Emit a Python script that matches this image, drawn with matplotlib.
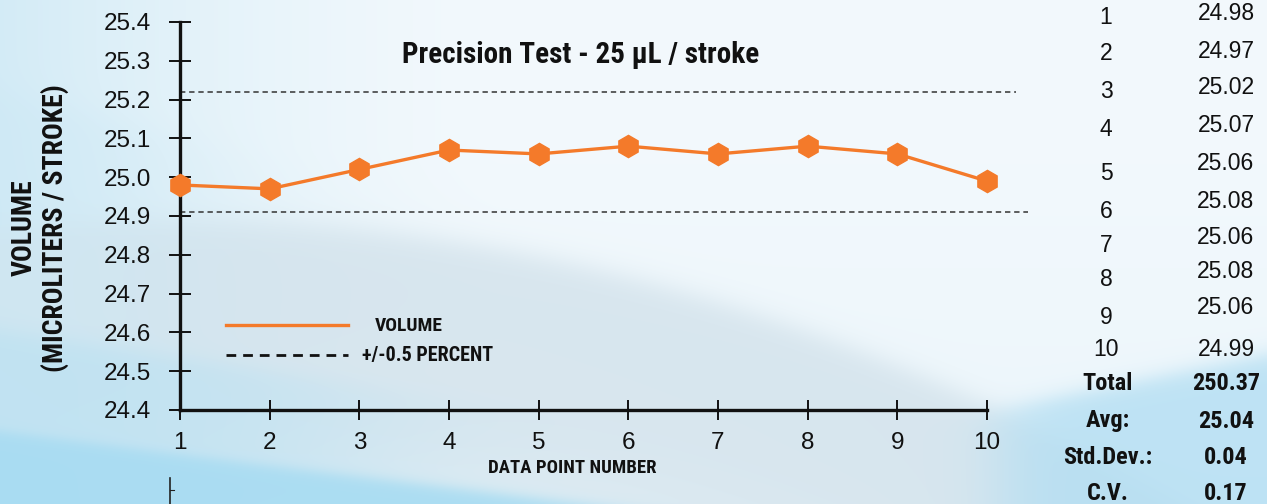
import numpy as np
import matplotlib
matplotlib.use("Agg")
import matplotlib.pyplot as plt
from matplotlib import font_manager
from matplotlib.lines import Line2D

# ---------------- data ----------------
data_points = [1, 2, 3, 4, 5, 6, 7, 8, 9, 10]
volumes = [24.98, 24.97, 25.02, 25.07, 25.06, 25.08, 25.06, 25.08, 25.06, 24.99]
limit_upper = 25.22
limit_lower = 24.91
y_ticks = [24.4, 24.5, 24.6, 24.7, 24.8, 24.9, 25.0, 25.1, 25.2, 25.3, 25.4]
summary_labels = ["Total", "Avg:", "Std.Dev.:", "C.V."]
summary_values = ["250.37", "25.04", "0.04", "0.17"]
title = "Precision Test - 25 µL / stroke"
legend_labels = ["VOLUME", "+/-0.5 PERCENT"]

# ---------------- fonts ----------------
fl = font_manager.fontManager.ttflist
names = {f.name for f in fl}
REG = "Liberation Sans" if "Liberation Sans" in names else "DejaVu Sans"
NARROW, STRETCH = None, "normal"
for cand in ["Liberation Sans Narrow", "Roboto Condensed", "Open Sans Condensed",
             "DejaVu Sans Condensed", "Noto Sans Condensed"]:
    if cand in names:
        NARROW = cand
        break
if NARROW is None:
    cond = [f for f in fl if str(f.stretch) in ("condensed", "semi-condensed",
            "extra-condensed") or (isinstance(f.stretch, int) and f.stretch < 500)]
    cond_bold = [f for f in cond if (f.weight == "bold" or
                 (isinstance(f.weight, int) and f.weight >= 600))]
    pick = cond_bold[0] if cond_bold else (cond[0] if cond else None)
    if pick is not None:
        NARROW, STRETCH = pick.name, pick.stretch
    else:
        cn = [n for n in names if "Condensed" in n or "Narrow" in n]
        NARROW = cn[0] if cn else REG
IS_NARROW = NARROW != REG
BSCALE = 1.0 if IS_NARROW else 0.82
ORANGE = "#f47a2a"

W, H = 1267, 504
fig = plt.figure(figsize=(W / 100, H / 100), dpi=100)

# ---------------- background ----------------
yy, xx = np.mgrid[0:H, 0:W].astype(float)
def sm(v, w):
    return 1 / (1 + np.exp(-v / w))
white = np.array([0.95, 0.975, 0.99])
lightblue = np.array([0.80, 0.91, 0.96])
gray = np.array([0.83, 0.89, 0.925])
blue = np.array([0.65, 0.86, 0.95])
t = np.clip(1 - xx / 500, 0, 1) ** 1.5 * 0.8 + np.clip((yy - 150) / 600, 0, 1) * 0.3
t = np.clip(t, 0, 1)[..., None]
img = white * (1 - t) + lightblue * t
f1 = 220 + 0.000283 * (xx - 180) ** 2
m = (sm(yy - f1, 8) * (1 - sm(yy - (f1 + 260), 40)))[..., None] * 0.85
img = img * (1 - m) + gray * m
g0 = 90 + 0.25 * xx
m = (sm(yy - g0, 10) * sm(150 - xx, 60))[..., None] * 0.6
img = img * (1 - m) + lightblue * m
g1 = 428 + 0.13 * xx
m = sm(yy - g1, 4)[..., None] * 0.9
img = img * (1 - m) + blue * m
g2 = 330 + 0.15 * xx
m = (sm(yy - g2, 6) * (1 - sm(yy - g1, 4)) * sm(350 - xx, 80))[..., None] * 0.6
img = img * (1 - m) + np.array([0.72, 0.88, 0.95]) * m
g3 = 400 - 0.2 * (xx - 1040)
m = (sm(yy - g3, 6) * sm(xx - 1000, 20))[..., None] * 0.8
img = img * (1 - m) + np.array([0.70, 0.87, 0.95]) * m
bg = fig.add_axes([0, 0, 1, 1], zorder=-10)
bg.imshow(np.clip(img, 0, 1), aspect="auto", extent=[0, W, H, 0])
bg.axis("off")

def btext(x, y, s, size, **kw):
    return fig.text(x / W, 1 - y / H, s, fontsize=size * BSCALE, fontweight="bold",
                    family=NARROW, fontstretch=STRETCH, color="#111111", **kw)

# ---------------- main axes ----------------
x0, x1, y0, y1 = 180, 987, 22, 410
ax = fig.add_axes([x0 / W, 1 - y1 / H, (x1 - x0) / W, (y1 - y0) / H])
ax.patch.set_alpha(0)
ax.set_xlim(1, 10)
ax.set_ylim(24.4, 25.4)
for s in ["top", "right"]:
    ax.spines[s].set_visible(False)
for s in ["left", "bottom"]:
    ax.spines[s].set_linewidth(2.4)
    ax.spines[s].set_color("#111111")
ax.set_yticks(y_ticks)
ax.set_yticklabels([f"{v:.1f}" for v in y_ticks])
ax.set_xticks(data_points)
ax.set_xticklabels([str(v) for v in data_points])
ax.tick_params(axis="y", direction="inout", length=16, width=1.4, pad=13,
               labelsize=17.5, colors="#111111")
ax.tick_params(axis="x", direction="inout", length=15, width=1.4, pad=8,
               labelsize=17.5, colors="#111111")
for lab in ax.get_xticklabels() + ax.get_yticklabels():
    lab.set_fontfamily(REG)

ax.plot(data_points, volumes, color=ORANGE, lw=2.4, marker="h", ms=16,
        mec=ORANGE, mfc=ORANGE, clip_on=False, zorder=5)
ax.plot([1, 10.32], [limit_upper] * 2, ls=(0, (3.5, 2.5)), color="#333333",
        lw=1.1, clip_on=False)
ax.plot([1, 10.46], [limit_lower] * 2, ls=(0, (3.5, 2.5)), color="#333333",
        lw=1.1, clip_on=False)

# manual legend
tr = ax.transAxes
def axpx(px, py):
    return ((px - x0) / (x1 - x0), (y1 - py) / (y1 - y0))
a, b = axpx(226, 325), axpx(348, 325)
ax.add_line(Line2D([a[0], b[0]], [a[1], b[1]], transform=tr, color=ORANGE, lw=2.4))
a, b = axpx(226, 355), axpx(348, 355)
ax.add_line(Line2D([a[0], b[0]], [a[1], b[1]], transform=tr, color="#111111",
                   lw=2.0, ls=(0, (3.5, 2.5))))
btext(375, 326, legend_labels[0], 14, va="center", ha="left")
btext(362, 355, legend_labels[1], 14.5, va="center", ha="left")

# title and axis labels
btext(581, 55, title, 21, ha="center", va="center")
btext(572, 468, "DATA POINT NUMBER", 13.5, ha="center", va="center")
btext(40, 228, "VOLUME\n(MICROLITERS / STROKE)", 20, rotation=90, ha="center",
      va="center", multialignment="center", linespacing=1.15)

# stray axis fragment at bottom
fig.add_artist(Line2D([170 / W, 170 / W], [0, 1 - 478 / H], transform=fig.transFigure,
                      color="#222222", lw=1.2))
fig.add_artist(Line2D([170 / W, 174 / W], [1 - 490 / H] * 2, transform=fig.transFigure,
                      color="#222222", lw=0.8))

# ---------------- side table ----------------
num_y = [18, 53, 91, 129, 173, 211, 245, 280, 318, 350]
val_y = [14, 52, 88, 126, 164, 201, 237, 271, 308, 350]
for n, v, ny, vy in zip(data_points, volumes, num_y, val_y):
    fig.text(1106 / W, 1 - ny / H, str(n), fontsize=16.5, family=REG, ha="center",
             va="center", color="#111111")
    fig.text(1226 / W, 1 - vy / H, f"{v:.2f}", fontsize=16.5, family=REG, ha="center",
             va="center", color="#111111")
sum_y = [383, 421, 458, 493]
for lab, val, sy in zip(summary_labels, summary_values, sum_y):
    btext(1108, sy, lab, 17.5, ha="center", va="center")
    btext(1226, sy, val, 17.5, ha="center", va="center")

fig.savefig("out.png", dpi=100)
